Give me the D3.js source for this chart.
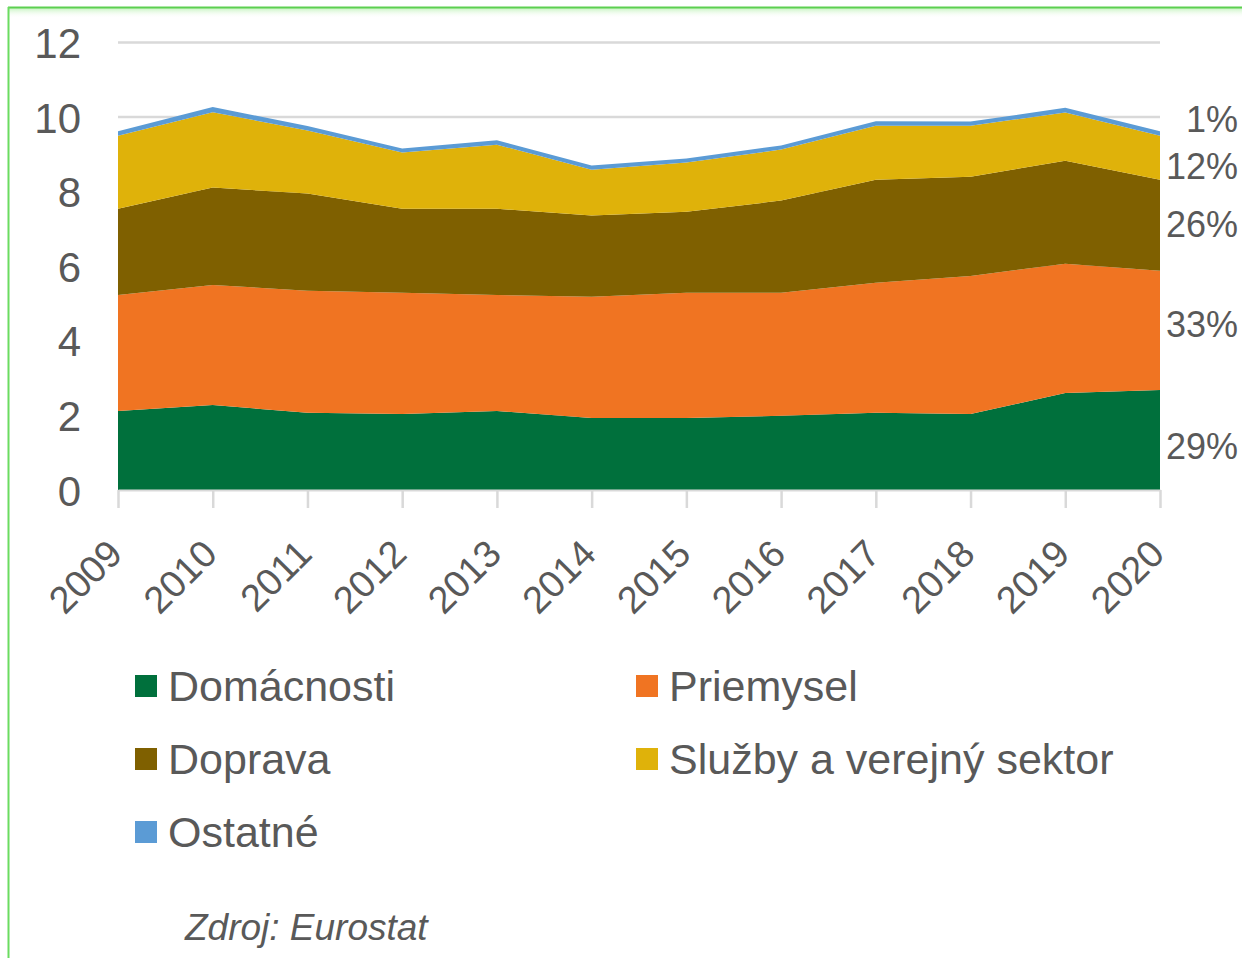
<!DOCTYPE html>
<html>
<head>
<meta charset="utf-8">
<script src="https://cdn.jsdelivr.net/npm/d3@7"></script>
<style>
  html, body { margin: 0; padding: 0; background: #fff; }
  #chart { width: 1242px; height: 958px; }
  text { font-family: "Liberation Sans", Arial, sans-serif; fill: #595959; }
</style>
</head>
<body>
<div id="chart"></div>
<script>
// data (mil. toe)
const years = [2009, 2010, 2011, 2012, 2013, 2014, 2015, 2016, 2017, 2018, 2019, 2020];
const domacnosti = [2.12, 2.28, 2.07, 2.04, 2.12, 1.93, 1.93, 1.99, 2.07, 2.04, 2.60, 2.68];
const priemysel  = [3.11, 3.22, 3.27, 3.25, 3.11, 3.25, 3.36, 3.30, 3.49, 3.70, 3.47, 3.20];
const doprava    = [2.31, 2.61, 2.61, 2.25, 2.31, 2.18, 2.17, 2.47, 2.76, 2.66, 2.76, 2.44];
const sluzby     = [1.96, 2.02, 1.69, 1.51, 1.72, 1.23, 1.32, 1.37, 1.45, 1.37, 1.29, 1.18];
const ostatne    = [0.12, 0.14, 0.12, 0.11, 0.12, 0.11, 0.11, 0.11, 0.12, 0.11, 0.13, 0.12];

const yTicks = [0, 2, 4, 6, 8, 10, 12];
const shareLabels = ["29%", "33%", "26%", "12%", "1%"];

const series = [
  { key: "Domácnosti", values: domacnosti, color: "#00703C" },
  { key: "Priemysel", values: priemysel, color: "#F07422" },
  { key: "Doprava", values: doprava, color: "#7F6000" },
  { key: "Služby a verejný sektor", values: sluzby, color: "#DFB20A" },
  { key: "Ostatné", values: ostatne, color: "#5B9BD5" }
];

const width = 1242, height = 958;
const margin = { top: 42.5, right: 82, bottom: 468, left: 118 };
const innerW = width - margin.left - margin.right;
const innerH = height - margin.top - margin.bottom;

const svg = d3.select("#chart").append("svg")
  .attr("width", width)
  .attr("height", height);

// frame: green border top + left
const defs = svg.append("defs");
const grad = defs.append("linearGradient")
  .attr("id", "topglow").attr("x1", 0).attr("y1", 0).attr("x2", 0).attr("y2", 1);
grad.append("stop").attr("offset", 0).attr("stop-color", "#b8f0b0").attr("stop-opacity", 0.8);
grad.append("stop").attr("offset", 1).attr("stop-color", "#ffffff").attr("stop-opacity", 0);
svg.append("rect").attr("x", 8).attr("y", 8).attr("width", width - 8).attr("height", 10)
  .attr("fill", "url(#topglow)");
svg.append("line").attr("x1", 8).attr("x2", width).attr("y1", 7.5).attr("y2", 7.5)
  .attr("stroke", "#5ccf50").attr("stroke-width", 2);
svg.append("line").attr("x1", 8.5).attr("x2", 8.5).attr("y1", 7).attr("y2", height)
  .attr("stroke", "#6bdc60").attr("stroke-width", 2);

const chart = svg.append("g")
  .attr("transform", `translate(${margin.left},${margin.top})`);

// scales
const x = d3.scalePoint().domain(years).range([0, innerW]);
const y = d3.scaleLinear().domain([0, 12]).range([innerH, 0]);

// gridlines
chart.append("g")
  .selectAll("line")
  .data(yTicks.filter(d => d > 0))
  .join("line")
  .attr("x1", 0).attr("x2", innerW)
  .attr("y1", d => y(d)).attr("y2", d => y(d))
  .attr("stroke", "#d9d9d9").attr("stroke-width", 2.5);

// stacked areas
const table = years.map((yr, i) => {
  const row = { year: yr };
  series.forEach(s => { row[s.key] = s.values[i]; });
  return row;
});
const stacked = d3.stack().keys(series.map(s => s.key))(table);

const area = d3.area()
  .x(d => x(d.data.year))
  .y0(d => y(d[0]))
  .y1(d => y(d[1]));

chart.append("g")
  .selectAll("path")
  .data(stacked)
  .join("path")
  .attr("fill", (d, i) => series[i].color)
  .attr("d", area);

// x axis
const xAxis = chart.append("g")
  .attr("transform", `translate(0,${innerH})`)
  .call(d3.axisBottom(x).tickSize(18).tickSizeOuter(0).tickPadding(0));
xAxis.select(".domain").attr("stroke", "#d9d9d9").attr("stroke-width", 2);
xAxis.selectAll(".tick line").attr("stroke", "#d9d9d9").attr("stroke-width", 2.5);
xAxis.selectAll(".tick text")
  .attr("font-size", "38px")
  .attr("fill", "#595959")
  .attr("text-anchor", "end")
  .attr("y", 0)
  .attr("dy", 0)
  .attr("transform", "translate(6,66) rotate(-45)");

// y axis
const yAxis = chart.append("g")
  .call(d3.axisLeft(y).tickValues(yTicks).tickSize(0).tickPadding(37));
yAxis.select(".domain").remove();
yAxis.selectAll(".tick text")
  .attr("font-size", "42px")
  .attr("fill", "#595959")
  .attr("dy", "0.36em");

// share labels on the right, placed next to each band at 2020
const last = years.length - 1;
chart.append("g")
  .selectAll("text")
  .data(stacked)
  .join("text")
  .attr("x", innerW + 78)
  .attr("y", (d, i) => {
    const mid = y((d[last][0] + d[last][1]) / 2);
    const nudge = [6, -6, -1, 8, -14][i];
    return mid + nudge;
  })
  .attr("dy", "0.36em")
  .attr("text-anchor", "end")
  .attr("font-size", "36px")
  .text((d, i) => shareLabels[i]);

// legend
const legendPos = [
  { x: 135, y: 686 }, { x: 636, y: 686 },
  { x: 135, y: 759 }, { x: 636, y: 759 },
  { x: 135, y: 832 }
];
const legend = svg.append("g")
  .selectAll("g")
  .data(series)
  .join("g")
  .attr("transform", (d, i) => `translate(${legendPos[i].x},${legendPos[i].y})`);
legend.append("rect")
  .attr("x", 0).attr("y", -11)
  .attr("width", 22).attr("height", 22)
  .attr("fill", d => d.color);
legend.append("text")
  .attr("x", 33)
  .attr("dy", "0.36em")
  .attr("font-size", "43px")
  .text(d => d.key);

// source
svg.append("text")
  .attr("x", 185)
  .attr("y", 940)
  .attr("font-size", "37px")
  .attr("font-style", "italic")
  .text("Zdroj: Eurostat");
</script>
</body>
</html>
